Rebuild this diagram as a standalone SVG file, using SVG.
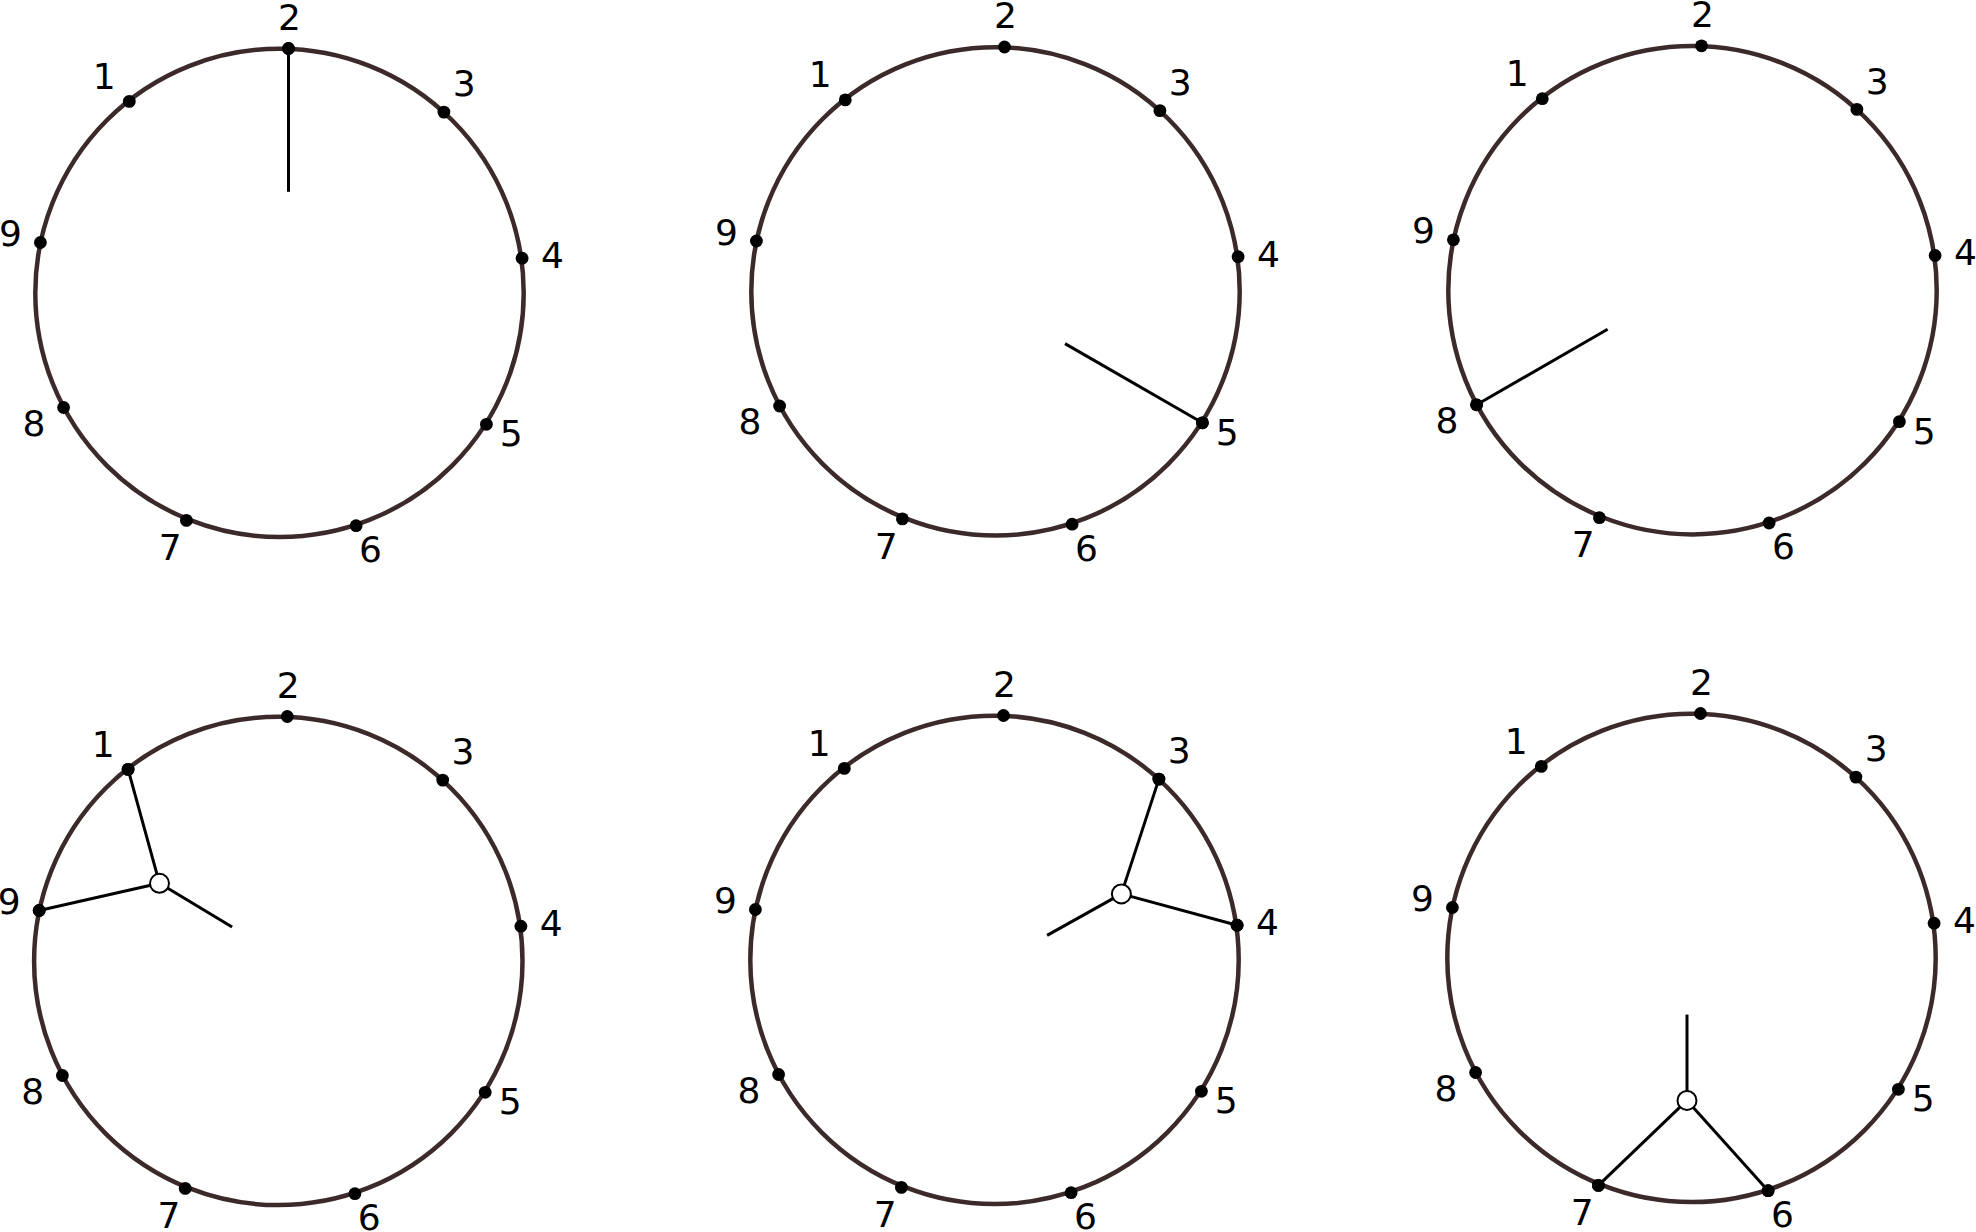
<svg xmlns="http://www.w3.org/2000/svg" width="1976" height="1232" viewBox="0 0 1976 1232">
<style>
.ring{fill:none;stroke:#3c2a2a;stroke-width:4.5}
.dot{fill:#000}
.lbl{font-family:"DejaVu Sans",sans-serif;font-size:36px;fill:#000;text-anchor:middle}
.spoke{stroke:#000;stroke-width:3;fill:none}
.junc{fill:#fff;stroke:#000;stroke-width:2}
</style>
<rect width="1976" height="1232" fill="#fff"/>
<defs>
<g id="face">
<circle class="ring" cx="279.5" cy="292.9" r="244.2"/>
</g>
</defs>

<g id="panel1" transform="translate(0,0)">
<use href="#face"/>
<g id="p1-n1"><circle class="dot" cx="129.3" cy="101.4" r="6.4"/><text class="lbl" x="104.3" y="88.6">1</text></g>
<g id="p1-n2"><circle class="dot" cx="288.5" cy="48.5" r="6.4"/><text class="lbl" x="289.5" y="29.5">2</text></g>
<g id="p1-n3"><circle class="dot" cx="443.9" cy="112.1" r="6.4"/><text class="lbl" x="464.1" y="96.4">3</text></g>
<g id="p1-n4"><circle class="dot" cx="522.1" cy="258.2" r="6.4"/><text class="lbl" x="552.5" y="268">4</text></g>
<g id="p1-n5"><circle class="dot" cx="486.4" cy="424.3" r="6.4"/><text class="lbl" x="511.3" y="446.4">5</text></g>
<g id="p1-n6"><circle class="dot" cx="356.1" cy="525.7" r="6.4"/><text class="lbl" x="370.5" y="562">6</text></g>
<g id="p1-n7"><circle class="dot" cx="186.4" cy="520.4" r="6.4"/><text class="lbl" x="170.2" y="560">7</text></g>
<g id="p1-n8"><circle class="dot" cx="63.6" cy="407.5" r="6.4"/><text class="lbl" x="33.9" y="435.7">8</text></g>
<g id="p1-n9"><circle class="dot" cx="40.4" cy="242.5" r="6.4"/><text class="lbl" x="10.5" y="246">9</text></g>
</g>

<g id="panel2" transform="translate(716,-1.5)">
<use href="#face"/>
<g id="p2-n1"><circle class="dot" cx="129.3" cy="101.4" r="6.4"/><text class="lbl" x="104.3" y="88.6">1</text></g>
<g id="p2-n2"><circle class="dot" cx="288.5" cy="48.5" r="6.4"/><text class="lbl" x="289.5" y="29.5">2</text></g>
<g id="p2-n3"><circle class="dot" cx="443.9" cy="112.1" r="6.4"/><text class="lbl" x="464.1" y="96.4">3</text></g>
<g id="p2-n4"><circle class="dot" cx="522.1" cy="258.2" r="6.4"/><text class="lbl" x="552.5" y="268">4</text></g>
<g id="p2-n5"><circle class="dot" cx="486.4" cy="424.3" r="6.4"/><text class="lbl" x="511.3" y="446.4">5</text></g>
<g id="p2-n6"><circle class="dot" cx="356.1" cy="525.7" r="6.4"/><text class="lbl" x="370.5" y="562">6</text></g>
<g id="p2-n7"><circle class="dot" cx="186.4" cy="520.4" r="6.4"/><text class="lbl" x="170.2" y="560">7</text></g>
<g id="p2-n8"><circle class="dot" cx="63.6" cy="407.5" r="6.4"/><text class="lbl" x="33.9" y="435.7">8</text></g>
<g id="p2-n9"><circle class="dot" cx="40.4" cy="242.5" r="6.4"/><text class="lbl" x="10.5" y="246">9</text></g>
</g>

<g id="panel3" transform="translate(1413,-2.7)">
<use href="#face"/>
<g id="p3-n1"><circle class="dot" cx="129.3" cy="101.4" r="6.4"/><text class="lbl" x="104.3" y="88.6">1</text></g>
<g id="p3-n2"><circle class="dot" cx="288.5" cy="48.5" r="6.4"/><text class="lbl" x="289.5" y="29.5">2</text></g>
<g id="p3-n3"><circle class="dot" cx="443.9" cy="112.1" r="6.4"/><text class="lbl" x="464.1" y="96.4">3</text></g>
<g id="p3-n4"><circle class="dot" cx="522.1" cy="258.2" r="6.4"/><text class="lbl" x="552.5" y="268">4</text></g>
<g id="p3-n5"><circle class="dot" cx="486.4" cy="424.3" r="6.4"/><text class="lbl" x="511.3" y="446.4">5</text></g>
<g id="p3-n6"><circle class="dot" cx="356.1" cy="525.7" r="6.4"/><text class="lbl" x="370.5" y="562">6</text></g>
<g id="p3-n7"><circle class="dot" cx="186.4" cy="520.4" r="6.4"/><text class="lbl" x="170.2" y="560">7</text></g>
<g id="p3-n8"><circle class="dot" cx="63.6" cy="407.5" r="6.4"/><text class="lbl" x="33.9" y="435.7">8</text></g>
<g id="p3-n9"><circle class="dot" cx="40.4" cy="242.5" r="6.4"/><text class="lbl" x="10.5" y="246">9</text></g>
</g>

<g id="panel4" transform="translate(-1.2,668)">
<use href="#face"/>
<g id="p4-n1"><circle class="dot" cx="129.3" cy="101.4" r="6.4"/><text class="lbl" x="104.3" y="88.6">1</text></g>
<g id="p4-n2"><circle class="dot" cx="288.5" cy="48.5" r="6.4"/><text class="lbl" x="289.5" y="29.5">2</text></g>
<g id="p4-n3"><circle class="dot" cx="443.9" cy="112.1" r="6.4"/><text class="lbl" x="464.1" y="96.4">3</text></g>
<g id="p4-n4"><circle class="dot" cx="522.1" cy="258.2" r="6.4"/><text class="lbl" x="552.5" y="268">4</text></g>
<g id="p4-n5"><circle class="dot" cx="486.4" cy="424.3" r="6.4"/><text class="lbl" x="511.3" y="446.4">5</text></g>
<g id="p4-n6"><circle class="dot" cx="356.1" cy="525.7" r="6.4"/><text class="lbl" x="370.5" y="562">6</text></g>
<g id="p4-n7"><circle class="dot" cx="186.4" cy="520.4" r="6.4"/><text class="lbl" x="170.2" y="560">7</text></g>
<g id="p4-n8"><circle class="dot" cx="63.6" cy="407.5" r="6.4"/><text class="lbl" x="33.9" y="435.7">8</text></g>
<g id="p4-n9"><circle class="dot" cx="40.4" cy="242.5" r="6.4"/><text class="lbl" x="10.5" y="246">9</text></g>
</g>

<g id="panel5" transform="translate(715,667)">
<use href="#face"/>
<g id="p5-n1"><circle class="dot" cx="129.3" cy="101.4" r="6.4"/><text class="lbl" x="104.3" y="88.6">1</text></g>
<g id="p5-n2"><circle class="dot" cx="288.5" cy="48.5" r="6.4"/><text class="lbl" x="289.5" y="29.5">2</text></g>
<g id="p5-n3"><circle class="dot" cx="443.9" cy="112.1" r="6.4"/><text class="lbl" x="464.1" y="96.4">3</text></g>
<g id="p5-n4"><circle class="dot" cx="522.1" cy="258.2" r="6.4"/><text class="lbl" x="552.5" y="268">4</text></g>
<g id="p5-n5"><circle class="dot" cx="486.4" cy="424.3" r="6.4"/><text class="lbl" x="511.3" y="446.4">5</text></g>
<g id="p5-n6"><circle class="dot" cx="356.1" cy="525.7" r="6.4"/><text class="lbl" x="370.5" y="562">6</text></g>
<g id="p5-n7"><circle class="dot" cx="186.4" cy="520.4" r="6.4"/><text class="lbl" x="170.2" y="560">7</text></g>
<g id="p5-n8"><circle class="dot" cx="63.6" cy="407.5" r="6.4"/><text class="lbl" x="33.9" y="435.7">8</text></g>
<g id="p5-n9"><circle class="dot" cx="40.4" cy="242.5" r="6.4"/><text class="lbl" x="10.5" y="246">9</text></g>
</g>

<g id="panel6" transform="translate(1412,665)">
<use href="#face"/>
<g id="p6-n1"><circle class="dot" cx="129.3" cy="101.4" r="6.4"/><text class="lbl" x="104.3" y="88.6">1</text></g>
<g id="p6-n2"><circle class="dot" cx="288.5" cy="48.5" r="6.4"/><text class="lbl" x="289.5" y="29.5">2</text></g>
<g id="p6-n3"><circle class="dot" cx="443.9" cy="112.1" r="6.4"/><text class="lbl" x="464.1" y="96.4">3</text></g>
<g id="p6-n4"><circle class="dot" cx="522.1" cy="258.2" r="6.4"/><text class="lbl" x="552.5" y="268">4</text></g>
<g id="p6-n5"><circle class="dot" cx="486.4" cy="424.3" r="6.4"/><text class="lbl" x="511.3" y="446.4">5</text></g>
<g id="p6-n6"><circle class="dot" cx="356.1" cy="525.7" r="6.4"/><text class="lbl" x="370.5" y="562">6</text></g>
<g id="p6-n7"><circle class="dot" cx="186.4" cy="520.4" r="6.4"/><text class="lbl" x="170.2" y="560">7</text></g>
<g id="p6-n8"><circle class="dot" cx="63.6" cy="407.5" r="6.4"/><text class="lbl" x="33.9" y="435.7">8</text></g>
<g id="p6-n9"><circle class="dot" cx="40.4" cy="242.5" r="6.4"/><text class="lbl" x="10.5" y="246">9</text></g>
</g>

<g id="connectors">
<line class="spoke" x1="288.5" y1="48.5" x2="288.5" y2="191.8"/>
<line class="spoke" x1="1065" y1="343.6" x2="1202.4" y2="422.8"/>
<line class="spoke" x1="1476.6" y1="404.8" x2="1607.6" y2="329.3"/>
<line class="spoke" x1="159.5" y1="883.3" x2="128.1" y2="769.4"/>
<line class="spoke" x1="159.5" y1="883.3" x2="39.2" y2="910.5"/>
<line class="spoke" x1="159.5" y1="883.3" x2="232.1" y2="927"/>
<line class="spoke" x1="1121.4" y1="893.9" x2="1158.9" y2="779.1"/>
<line class="spoke" x1="1121.4" y1="893.9" x2="1237.1" y2="925.2"/>
<line class="spoke" x1="1121.4" y1="893.9" x2="1047.1" y2="935.4"/>
<line class="spoke" x1="1687" y1="1100.4" x2="1687" y2="1014.6"/>
<line class="spoke" x1="1687" y1="1100.4" x2="1598.4" y2="1185.4"/>
<line class="spoke" x1="1687" y1="1100.4" x2="1768.1" y2="1190.7"/>
</g>

<g id="junction4"><circle class="junc" cx="159.5" cy="883.3" r="9.5"/></g>
<g id="junction5"><circle class="junc" cx="1121.4" cy="893.9" r="9.5"/></g>
<g id="junction6"><circle class="junc" cx="1687" cy="1100.4" r="9.5"/></g>
<g id="redraw-dots">
<circle class="dot" cx="288.5" cy="48.5" r="6.4"/>
<circle class="dot" cx="1202.4" cy="422.8" r="6.4"/>
<circle class="dot" cx="1476.6" cy="404.8" r="6.4"/>
<circle class="dot" cx="128.1" cy="769.4" r="6.4"/>
<circle class="dot" cx="39.2" cy="910.5" r="6.4"/>
<circle class="dot" cx="1158.9" cy="779.1" r="6.4"/>
<circle class="dot" cx="1237.1" cy="925.2" r="6.4"/>
<circle class="dot" cx="1598.4" cy="1185.4" r="6.4"/>
<circle class="dot" cx="1768.1" cy="1190.7" r="6.4"/>
</g>
</svg>
